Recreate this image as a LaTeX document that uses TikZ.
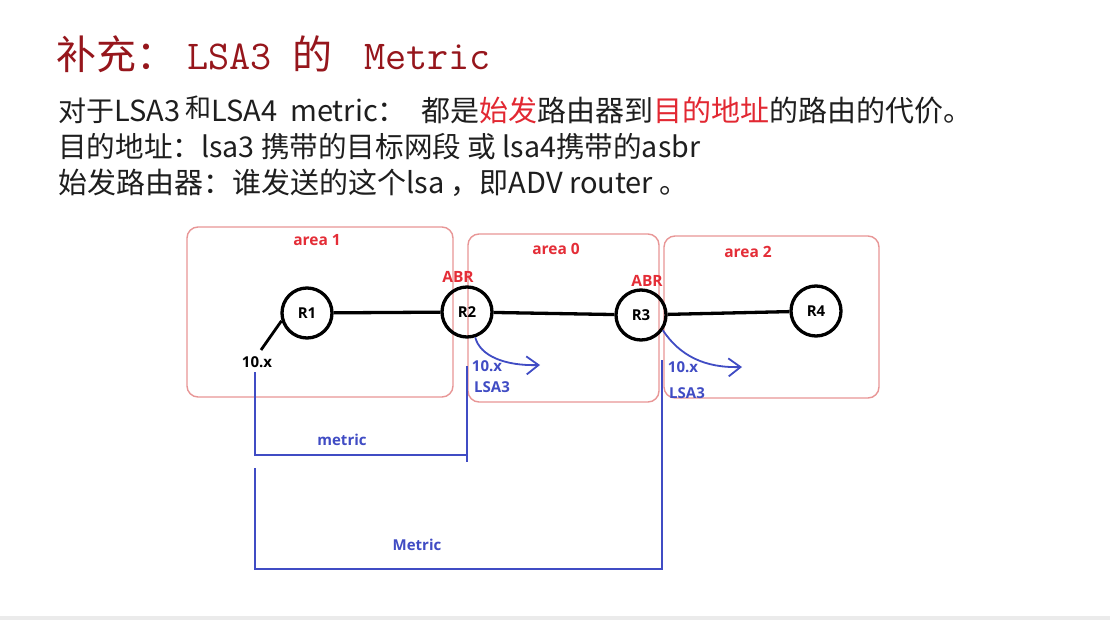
\documentclass[tikz,border=0pt]{standalone}
\usepackage{fontspec}
\setmainfont{Noto Sans CJK SC}
\newfontfamily\lblf{Open Sans}
\usetikzlibrary{arrows.meta}
\definecolor{titlered}{RGB}{150,22,28}
\definecolor{hired}{RGB}{226,40,50}
\definecolor{bodyink}{RGB}{30,30,30}
\definecolor{arealine}{RGB}{232,150,150}
\definecolor{arealbl}{RGB}{228,45,55}
\definecolor{mblue}{RGB}{64,76,196}
\tikzset{
 bodytext/.style={anchor=base west, inner sep=0pt, text=bodyink, font=\fontsize{29}{29}\selectfont},
 titletext/.style={anchor=base west, inner sep=0pt, text=titlered},
 areabox/.style={draw=arealine, line width=1.4pt, rounded corners=11pt},
 arealabel/.style={text=arealbl, font=\lblf\bfseries\fontsize{15.5}{15.5}\selectfont, inner sep=0pt},
 router/.style={circle, draw=black, line width=3.3pt, minimum size=50pt, inner sep=0pt, font=\lblf\bfseries\fontsize{15}{15}\selectfont},
 link/.style={draw=black, line width=3.3pt},
 blabel/.style={text=mblue, font=\lblf\bfseries\fontsize{15}{15}\selectfont, inner sep=0pt},
 klabel/.style={text=black, font=\lblf\bfseries\fontsize{15}{15}\selectfont, inner sep=0pt},
 meas/.style={draw=mblue, line width=2.4pt},
 flow/.style={draw=mblue, line width=1.8pt, -{Straight Barb[length=12pt,width=18pt]}},
}
\begin{document}
\begin{tikzpicture}[x=1pt,y=-1pt]
\fill[white] (0,0) rectangle (1110,620);
\fill[black!8] (0,616) rectangle (1110,620);
\useasboundingbox (0,0) rectangle (1110,620);

% title
\node[titletext, font=\fontsize{40}{40}\selectfont] (t1) at (56,70) {补充：};
\node[titletext, font=\ttfamily\fontsize{41}{41}\selectfont] (t2) at (187,70) {LSA3};
\node[titletext, font=\fontsize{40}{40}\selectfont] (t3) at (292,70) {的};
\node[titletext, font=\ttfamily\fontsize{41}{41}\selectfont] (t4) at (364,70) {Metric};

% body text
\node[bodytext] (l1) at (58,122) {{\fontsize{28}{28}\selectfont 对于}LSA3\hspace{5pt}{\fontsize{26}{26}\selectfont\raisebox{4pt}{和}}LSA4\ \ metric：\hspace{8pt} 都是\textcolor{hired}{始发}路由器到\textcolor{hired}{目的地址}的路由的代价。};
\node[bodytext, font=\fontsize{28.6}{28.6}\selectfont] (l2) at (58,158) {目的地址：lsa3 携带的目标网段 或 lsa4携带的asbr};
\node[bodytext] (l3) at (58,194) {始发路由器：谁发送的这个lsa ，即ADV router 。};

% areas
\draw[areabox] (187,227) rectangle (453,397);
\draw[areabox] (468,234) rectangle (659,402);
\draw[areabox] (664,236) rectangle (879,398);
\node[arealabel] (a1) at (317,240) {area 1};
\node[arealabel] (a0) at (556,249) {area 0};
\node[arealabel] (a2) at (748,252) {area 2};

% routers
\node[router] (R1) at (307,313) {R1};
\node[router] (R2) at (467,312) {R2};
\node[router] (R3) at (641,315) {R3};
\node[router] (R4) at (816,311) {R4};
\draw[link] (R1) -- (R2);
\draw[link] (R2) -- (R3);
\draw[link] (R3) -- (R4);

\node[arealabel] (abr2) at (458,277) {ABR};
\node[arealabel] (abr3) at (647,281) {ABR};

% stub network
\node[klabel] (net) at (257,362) {10.x};
\coordinate (t10) at (261,350);
\draw[link, line width=2.8pt] (R1.197) -- (t10);

% LSA3 flows
\coordinate (f2) at (540,365);
\draw[flow] (R2.-72) .. controls (480,356) and (505,366) .. (f2);
\coordinate (f3) at (742,367);
\draw[flow] (R3.-35) .. controls (680,356) and (705,368) .. (f3);
\node[blabel] (n2) at (487,366) {10.x};
\node[blabel] (s2) at (492,387) {LSA3};
\node[blabel] (n3) at (683,367) {10.x};
\node[blabel] (s3) at (687,393) {LSA3};

% metric brackets
\coordinate (mA) at (255,372);
\coordinate (mB) at (255,455);
\coordinate (mC) at (467,455);
\coordinate (mD) at (467,366);
\coordinate (mE) at (467,462);
\draw[meas] (mA) -- (mB) -- (mC);
\draw[meas] (mD) -- (mE);
\node[blabel] (met1) at (342,440) {metric};

\coordinate (nA) at (255,468);
\coordinate (nB) at (255,569);
\coordinate (nC) at (662,569);
\coordinate (nD) at (662,360);
\draw[meas] (nA) -- (nB) -- (nC) -- (nD);
\node[blabel] (met2) at (417,545) {Metric};
\end{tikzpicture}
\end{document}
